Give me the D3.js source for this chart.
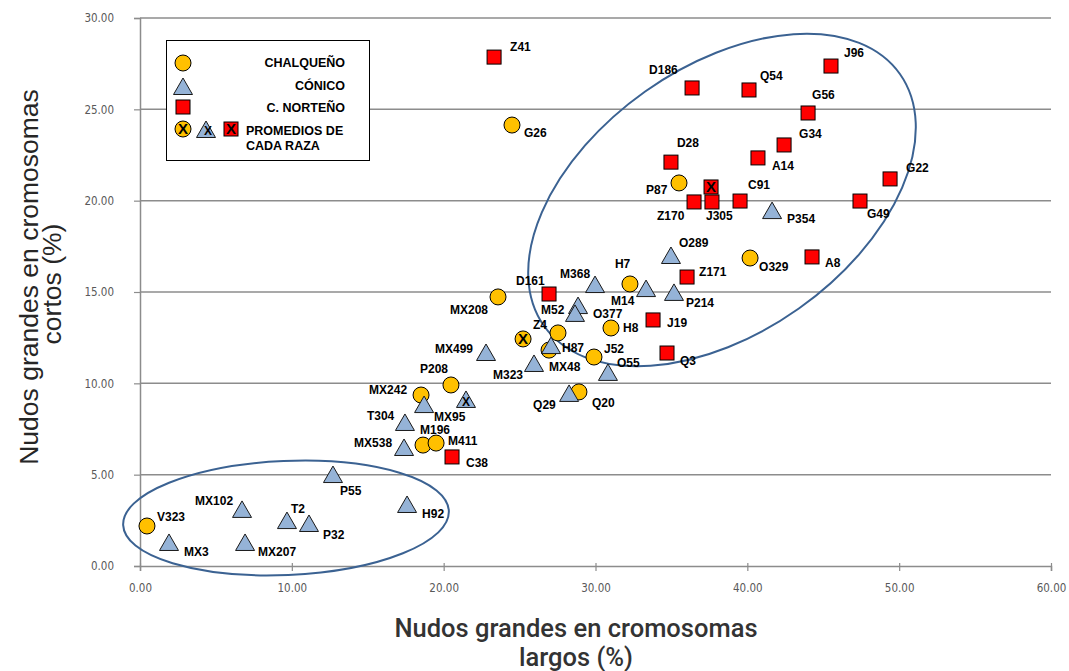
<!DOCTYPE html>
<html>
<head>
<meta charset="utf-8">
<script src="https://cdn.jsdelivr.net/npm/d3@7"></script>
<style>
  body { margin: 0; background: #fff; }
  .lbl { font-family: "Liberation Sans", Arial, sans-serif; font-weight: bold; font-size: 12px; fill: #000; }
  .leg { font-family: "Liberation Sans", Arial, sans-serif; font-weight: bold; font-size: 12.5px; fill: #000; }
  .tick-lbl { font-family: "Liberation Sans Narrow", "DejaVu Sans Condensed", sans-serif; font-size: 11.5px; fill: #595959; }
  .xtitle { font-family: Roboto, "Noto Sans", sans-serif; font-weight: 500; font-size: 25.5px; fill: #333; }
  .ytitle { font-family: "Liberation Sans", Arial, sans-serif; font-size: 26.5px; fill: #262626; }
</style>
</head>
<body>
<div id="chart"></div>
<script>
// data (% large knobs on long vs short chromosomes)
const chalqueno = [
  {name: "V323", x: 0.46, y: 2.19}, {name: "G26", x: 24.50, y: 24.14},
  {name: "P87", x: 35.50, y: 20.97}, {name: "H7", x: 32.27, y: 15.44},
  {name: "O329", x: 40.18, y: 16.86}, {name: "MX208", x: 23.58, y: 14.73},
  {name: "Z4", x: 27.53, y: 12.76}, {name: "MX48", x: 26.94, y: 11.82},
  {name: "H8", x: 31.02, y: 13.03}, {name: "J52", x: 29.90, y: 11.44},
  {name: "Q20", x: 28.91, y: 9.53}, {name: "P208", x: 20.48, y: 9.91},
  {name: "MX242", x: 18.51, y: 9.36}, {name: "M196", x: 18.64, y: 6.62},
  {name: "M411", x: 19.50, y: 6.73}
];
const conico = [
  {name: "MX3", x: 1.91, y: 1.26}, {name: "MX102", x: 6.72, y: 3.07},
  {name: "MX207", x: 6.92, y: 1.26}, {name: "T2", x: 9.68, y: 2.46},
  {name: "P32", x: 11.13, y: 2.30}, {name: "P55", x: 12.71, y: 4.98},
  {name: "H92", x: 17.59, y: 3.34}, {name: "MX538", x: 17.39, y: 6.46},
  {name: "T304", x: 17.45, y: 7.83}, {name: "MX95", x: 18.71, y: 8.81},
  {name: "MX499", x: 22.79, y: 11.66}, {name: "M323", x: 25.95, y: 11.06},
  {name: "H87", x: 27.07, y: 12.04}, {name: "M52", x: 28.85, y: 14.23},
  {name: "O377", x: 28.65, y: 13.80}, {name: "M368", x: 29.97, y: 15.38},
  {name: "M14", x: 33.33, y: 15.16}, {name: "P214", x: 35.17, y: 14.95},
  {name: "O289", x: 34.97, y: 16.97}, {name: "P354", x: 41.63, y: 19.43},
  {name: "O55", x: 30.82, y: 10.57}, {name: "Q29", x: 28.26, y: 9.42}
];
const norteno = [
  {name: "Z41", x: 23.32, y: 27.86}, {name: "D186", x: 36.36, y: 26.17},
  {name: "Q54", x: 40.11, y: 26.06}, {name: "J96", x: 45.51, y: 27.37},
  {name: "G56", x: 44.00, y: 24.80}, {name: "G34", x: 42.42, y: 23.05},
  {name: "A14", x: 40.70, y: 22.34}, {name: "D28", x: 34.97, y: 22.11},
  {name: "G22", x: 49.40, y: 21.19}, {name: "Z170", x: 36.49, y: 19.93},
  {name: "J305", x: 37.67, y: 19.93}, {name: "C91", x: 39.52, y: 19.98},
  {name: "G49", x: 47.42, y: 19.98}, {name: "A8", x: 44.26, y: 16.92},
  {name: "Z171", x: 36.03, y: 15.82}, {name: "J19", x: 33.79, y: 13.47},
  {name: "Q3", x: 34.71, y: 11.66}, {name: "D161", x: 26.94, y: 14.89},
  {name: "C38", x: 20.55, y: 5.97}
];
// race averages (marked with an X)
const promedios = [
  {raza: "chalqueno", x: 25.23, y: 12.43},
  {raza: "conico", x: 21.47, y: 9.09},
  {raza: "norteno", x: 37.61, y: 20.75}
];
const xTicks = [0, 10, 20, 30, 40, 50, 60];
const yTicks = [0, 5, 10, 15, 20, 25, 30];

// label offsets in px from the marker (start anchored)
const labelPos = {
  Z41: [16, -10], G26: [12, 8], D186: [-43, -18], Q54: [11, -14], J96: [13, -13],
  G56: [4, -18], G34: [15, -11], A14: [14, 8], D28: [6, -19], G22: [16, -11],
  P87: [-33, 7], C91: [8, -16], Z170: [-37, 14], J305: [-6, 14], P354: [15, 8],
  G49: [7, 13], O289: [8, -13], O329: [9, 9], A8: [13, 6], Z171: [12, -5],
  H7: [-15, -20], M368: [-35, -11], D161: [-33, -13], MX208: [-48, 13],
  M14: [-35, 12], P214: [12, 10], M52: [-37, 4], O377: [18, 0], J19: [14, 3],
  Z4: [-25, -8], H8: [12, 0], MX499: [-51, -4], H87: [11, 2], J52: [10, -8],
  O55: [9, -10], MX48: [0, 17], M323: [-41, 11], MX242: [-52, -5], P208: [-31, -16],
  MX95: [10, 12], Q29: [-36, 11], Q20: [13, 11], T304: [-38, -7], M196: [-3, -15],
  MX538: [-50, -5], M411: [12, -2], C38: [14, 6], P55: [7, 16], MX102: [-47, -9],
  V323: [10, -9], T2: [4, -12], H92: [15, 9], P32: [14, 11], MX3: [15, 9], MX207: [13, 9],
  Q3: [13, 8]
};

const width = 1069, height = 671;
const margin = {t: 18, b: 105, l: 140, r: 18};
const colors = {chalqueno: "#FFC000", conico: "#95B3D7", norteno: "#FF0000"};

const svg = d3.select("#chart").append("svg")
  .attr("width", width).attr("height", height);

const xScale = d3.scaleLinear().domain([0, 60]).range([margin.l, width - margin.r]);
const yScale = d3.scaleLinear().domain([0, 30]).range([height - margin.b, margin.t]);

// gridlines
svg.append("g").selectAll("line").data(yTicks.filter(d => d > 0)).join("line")
  .attr("x1", xScale(0)).attr("x2", xScale(60))
  .attr("y1", d => yScale(d)).attr("y2", d => yScale(d))
  .attr("stroke", "#8c8c8c").attr("stroke-width", 1.5);

// axes
const xAxis = d3.axisBottom(xScale).tickValues(xTicks).tickSize(5).tickFormat(d3.format(".2f"));
const yAxis = d3.axisLeft(yScale).tickValues(yTicks).tickSize(6).tickFormat(d3.format(".2f"));
const gx = svg.append("g").attr("transform", `translate(0, ${yScale(0)})`).call(xAxis);
const gy = svg.append("g").attr("transform", `translate(${xScale(0)}, 0)`).call(yAxis);
[gx, gy].forEach(g => {
  g.select(".domain").attr("stroke", "#8c8c8c").attr("stroke-width", 1.5);
  g.selectAll(".tick line").attr("stroke", "#8c8c8c").attr("stroke-width", 1.2);
  g.selectAll(".tick text").attr("class", "tick-lbl").attr("fill", null);
});
gx.selectAll(".tick line").attr("y1", -3);
gx.selectAll(".tick text").attr("dy", "1.6em");
gy.selectAll(".tick text").attr("x", -26);

// ellipses around groups
svg.append("ellipse")
  .attr("cx", 722).attr("cy", 200).attr("rx", 218).attr("ry", 133)
  .attr("transform", "rotate(-35.3, 722, 200)")
  .attr("fill", "none").attr("stroke", "#3B6292").attr("stroke-width", 2);
svg.append("ellipse")
  .attr("cx", 286).attr("cy", 518).attr("rx", 163).attr("ry", 57)
  .attr("transform", "rotate(-2.5, 286, 518)")
  .attr("fill", "none").attr("stroke", "#3B6292").attr("stroke-width", 2);

// marker drawers
function drawCircle(g, cx, cy) {
  g.append("circle").attr("cx", cx).attr("cy", cy).attr("r", 8)
    .attr("fill", colors.chalqueno).attr("stroke", "#000").attr("stroke-width", 1);
}
function drawTriangle(g, cx, cy) {
  g.append("path")
    .attr("d", `M${cx},${cy - 9}L${cx + 9.5},${cy + 7.5}L${cx - 9.5},${cy + 7.5}Z`)
    .attr("fill", colors.conico).attr("stroke", "#1a1a1a").attr("stroke-width", 1);
}
function drawSquare(g, cx, cy) {
  g.append("rect").attr("x", cx - 7).attr("y", cy - 7).attr("width", 14).attr("height", 14)
    .attr("fill", colors.norteno).attr("stroke", "#000").attr("stroke-width", 1);
}
function drawX(g, cx, cy, size) {
  g.append("text").attr("x", cx).attr("y", cy).attr("dy", "0.36em")
    .attr("text-anchor", "middle")
    .attr("font-family", "Liberation Sans, Arial, sans-serif")
    .attr("font-weight", "bold").attr("font-size", size).attr("fill", "#000")
    .text("X");
}

const marks = svg.append("g");
const drawers = {chalqueno: drawCircle, conico: drawTriangle, norteno: drawSquare};
const series = [["chalqueno", chalqueno], ["conico", conico], ["norteno", norteno]];

series.forEach(([key, arr]) => {
  arr.forEach(d => drawers[key](marks, xScale(d.x), yScale(d.y)));
});
promedios.forEach(d => {
  const cx = xScale(d.x), cy = yScale(d.y);
  drawers[d.raza](marks, cx, cy);
  drawX(marks, cx, d.raza === "conico" ? cy + 1.5 : cy, d.raza === "conico" ? 12 : 15);
});

// point labels
const labels = svg.append("g");
series.forEach(([key, arr]) => {
  arr.forEach(d => {
    const off = labelPos[d.name] || [10, 0];
    labels.append("text").attr("class", "lbl")
      .attr("x", xScale(d.x) + off[0]).attr("y", yScale(d.y) + off[1])
      .attr("dy", "0.35em").text(d.name);
  });
});

// legend
const lg = svg.append("g");
lg.append("rect").attr("x", 166.5).attr("y", 40.5).attr("width", 203).attr("height", 120)
  .attr("fill", "#fff").attr("stroke", "#000").attr("stroke-width", 1);
drawCircle(lg, 183, 63);
drawTriangle(lg, 183, 87);
drawSquare(lg, 183, 107);
drawCircle(lg, 183, 129); drawX(lg, 183, 129, 15);
drawTriangle(lg, 206, 130); drawX(lg, 208, 131, 12);
drawSquare(lg, 231, 129); drawX(lg, 231, 129, 15);
[["CHALQUEÑO", 63], ["CÓNICO", 86], ["C. NORTEÑO", 108]].forEach(([t, y]) => {
  lg.append("text").attr("class", "leg").attr("x", 345).attr("y", y).attr("dy", "0.35em")
    .attr("text-anchor", "end").text(t);
});
lg.append("text").attr("class", "leg").attr("x", 246).attr("y", 131).attr("dy", "0.35em").text("PROMEDIOS DE");
lg.append("text").attr("class", "leg").attr("x", 246).attr("y", 146).attr("dy", "0.35em").text("CADA RAZA");

// axis titles
svg.append("text").attr("class", "xtitle").attr("x", 576).attr("y", 637)
  .attr("text-anchor", "middle").text("Nudos grandes en cromosomas");
svg.append("text").attr("class", "xtitle").attr("x", 576).attr("y", 666)
  .attr("text-anchor", "middle").text("largos (%)");
svg.append("text").attr("class", "ytitle").attr("transform", "rotate(-90)")
  .attr("x", -277).attr("y", 38).attr("text-anchor", "middle").text("Nudos grandes en cromosomas");
svg.append("text").attr("class", "ytitle").attr("transform", "rotate(-90)")
  .attr("x", -284).attr("y", 61).attr("text-anchor", "middle").text("cortos (%)");
</script>
</body>
</html>
